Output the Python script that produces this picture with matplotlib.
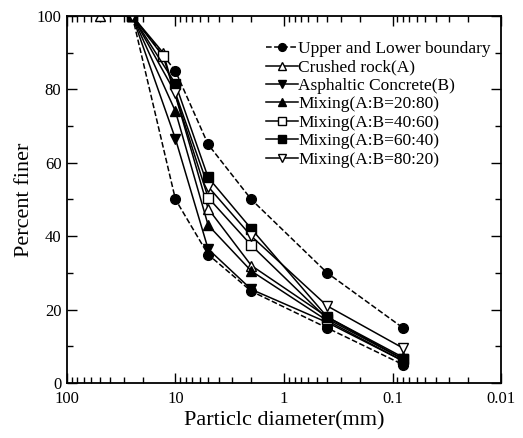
import numpy as np
import matplotlib.pyplot as plt
from matplotlib.ticker import LogLocator, MultipleLocator, FixedLocator

plt.rcParams['font.family'] = ['Liberation Serif', 'DejaVu Serif']

# sieve sizes (mm)
d_main = [25, 10, 5, 2, 0.4, 0.08]

upper = [100, 85, 65, 50, 30, 15]
d_lower = [25, 10, 5, 2, 0.4, 0.08]
lower = [100, 50, 35, 25, 15, 5]

d_crushed = [50, 25, 13, 5, 2, 0.4, 0.08]
crushed = [100, 100, 90, 47.5, 32, 18, 7]

asphalt = [100, 66.5, 36.5, 25.5, 16.5, 6]
mix_20_80 = [100, 74, 43, 30.5, 17, 6]

d_mix4060 = [25, 13, 5, 2, 0.4, 0.08]
mix_40_60 = [100, 89, 50.5, 37.5, 17.5, 6.5]
mix_60_40 = [100, 81.5, 56, 42, 18, 6.5]
mix_80_20 = [100, 79, 53.5, 40, 21, 9.5]

fig = plt.figure(figsize=(5.23, 4.38), dpi=100)
ax = fig.add_axes([0.128, 0.1256, 0.83, 0.838])

ms = 7
ax.plot(d_main, upper, 'k--o', ms=ms, lw=1.1, label='Upper and Lower boundary')
ax.plot(d_lower, lower, 'k--o', ms=ms, lw=1.1)
ax.plot(d_crushed, crushed, 'k-^', ms=ms, lw=1.1, mfc='white', label='Crushed rock(A)')
ax.plot(d_main, asphalt, 'k-v', ms=ms, lw=1.1, label='Asphaltic Concrete(B)')
ax.plot(d_main, mix_20_80, 'k-^', ms=ms, lw=1.1, label='Mixing(A:B=20:80)')
ax.plot(d_mix4060, mix_40_60, 'k-s', ms=ms, lw=1.1, mfc='white', label='Mixing(A:B=40:60)')
ax.plot(d_main, mix_60_40, 'k-s', ms=ms, lw=1.1, label='Mixing(A:B=60:40)')
ax.plot(d_main, mix_80_20, 'k-v', ms=ms, lw=1.1, mfc='white', label='Mixing(A:B=80:20)')

ax.set_xscale('log')
ax.set_xlim(100, 0.01)
ax.set_ylim(0, 100)
ax.xaxis.set_major_locator(FixedLocator([100, 10, 1, 0.1, 0.01]))
ax.set_xticklabels(['100', '10', '1', '0.1', '0.01'])
ax.xaxis.set_minor_locator(LogLocator(base=10, subs=np.arange(2, 10)))
ax.xaxis.set_minor_formatter(plt.NullFormatter())
ax.yaxis.set_major_locator(MultipleLocator(20))
ax.yaxis.set_minor_locator(MultipleLocator(10))

ax.tick_params(which='both', direction='in', top=True, right=True, labelsize=12, width=1)
ax.tick_params(which='major', length=7)
ax.tick_params(which='minor', length=4)
ax.tick_params(axis='x', which='major', pad=6)
ax.tick_params(axis='y', which='major', pad=4)
for s in ax.spines.values():
    s.set_linewidth(1.3)

ax.set_xlabel('Particlc diameter(mm)', fontsize=16, labelpad=3)
ax.set_ylabel('Percent finer', fontsize=16, labelpad=2)

leg = ax.legend(loc='upper right', bbox_to_anchor=(1.0, 0.96), frameon=False,
                fontsize=12.5, handlelength=1.85, handletextpad=0.0,
                labelspacing=0.13, borderaxespad=0.2, markerscale=0.8)

fig.savefig('out.png', dpi=100)
